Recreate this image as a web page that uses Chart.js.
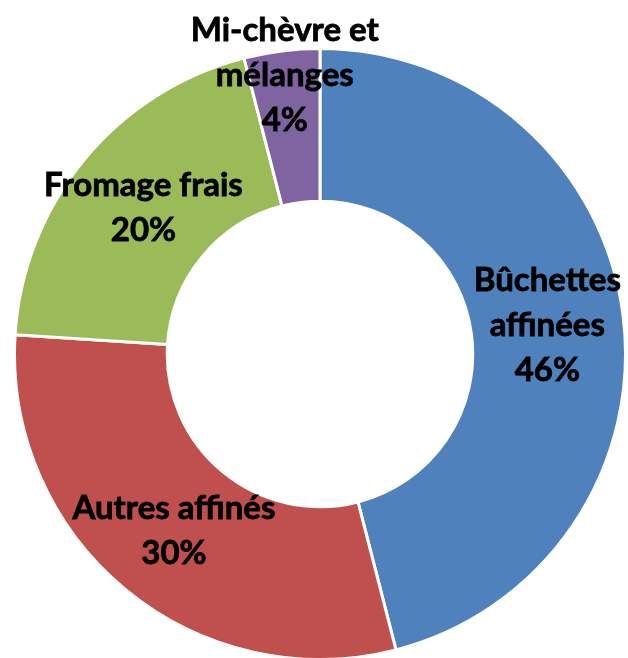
<!DOCTYPE html>
<html>
<head>
<meta charset="utf-8">
<script src="https://cdn.jsdelivr.net/npm/chart.js@4"></script>
<style>
  html, body { margin: 0; padding: 0; background: #fff; overflow: hidden; }
  #wrap { position: relative; width: 628px; height: 664px; }
</style>
</head>
<body>
<div id="wrap"><canvas id="cheese-chart"></canvas></div>
<script>
const categories = ["Bûchettes affinées", "Autres affinés", "Fromage frais", "Mi-chèvre et mélanges"];
const shares = [46, 30, 20, 4];
// how the labels wrap, like in the original
const labelLines = [
  ["Bûchettes", "affinées"],
  ["Autres affinés"],
  ["Fromage frais"],
  ["Mi-chèvre et", "mélanges"],
];
const colours = ["#4F81BD", "#C0504D", "#9BBB59", "#8064A2"];

// draws the labels + percent inside each slice
const sliceLabels = {
  id: "sliceLabels",
  afterDatasetsDraw(chart, args, opts) {
    const ctx = chart.ctx;
    const meta = chart.getDatasetMeta(0);
    const total = shares.reduce((a, b) => a + b, 0);
    ctx.save();
    ctx.font = "bold 33px Lato";
    ctx.fillStyle = "#000";
    ctx.textAlign = "center";
    ctx.textBaseline = "middle";
    meta.data.forEach((arc, i) => {
      const p = arc.getProps(["x", "y", "startAngle", "endAngle", "innerRadius", "outerRadius"], true);
      const mid = (p.startAngle + p.endAngle) / 2;
      const r = (p.innerRadius + p.outerRadius) / 2 + (opts.shift[i] || 0);
      const cx = p.x + Math.cos(mid) * r;
      const cy = p.y + Math.sin(mid) * r;
      const lines = labelLines[i].concat([Math.round(shares[i] / total * 100) + "%"]);
      const lh = 45;
      const top = cy - (lines.length - 1) * lh / 2;
      lines.forEach((t, k) => {
        // a thin stroke to get the heavier look of the original
        ctx.lineWidth = 0.8;
        ctx.strokeStyle = "#000";
        ctx.strokeText(t, cx, top + k * lh);
        ctx.fillText(t, cx, top + k * lh);
      });
    });
    ctx.restore();
  },
};

const ctx = document.getElementById("cheese-chart").getContext("2d");
new Chart(ctx, {
  type: "doughnut",
  data: {
    labels: categories,
    datasets: [{
      data: shares,
      backgroundColor: colours,
      borderColor: "#fff",
      borderWidth: 3,
    }],
  },
  options: {
    responsive: true,
    maintainAspectRatio: false,
    animation: false,
    cutout: "50%",
    layout: { padding: { left: 13, right: 1, top: 47, bottom: 3 } },
    plugins: {
      legend: { display: false },
      tooltip: { enabled: false },
      sliceLabels: { shift: [0, 0, 0, 52] },
    },
  },
  plugins: [sliceLabels],
});
</script>
</body>
</html>
